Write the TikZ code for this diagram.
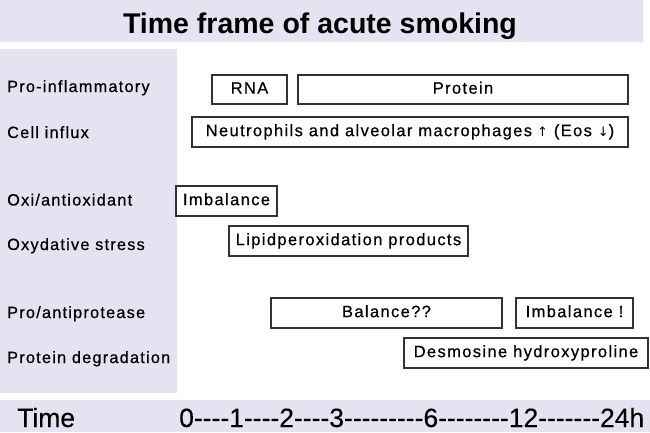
\documentclass[tikz,border=0pt]{standalone}
\usepackage{fontspec}
\setmainfont{Liberation Sans}
\newfontfamily\boxfont[LetterSpace=8.3,FakeBold=0.6]{Liberation Sans}
\newfontfamily\labfont[LetterSpace=7.5,FakeBold=0.6]{Liberation Sans}
\newfontfamily\axisfont[FakeBold=0.2]{Liberation Sans}
\newfontfamily\arrowfont{DejaVu Sans}
\definecolor{band}{RGB}{229,227,242}
\definecolor{edge}{RGB}{50,50,50}
\tikzset{
  boxed/.style={draw=edge, line width=1.1pt, fill=white, inner sep=0pt,
    font=\boxfont\fontsize{16.5}{18}\selectfont, text height=11.8pt, text depth=3.5pt},
  rowlabel/.style={anchor=base west, inner sep=0pt, font=\labfont\fontsize{16.3}{18}\selectfont},
  axistext/.style={anchor=base west, inner sep=0pt, font=\axisfont\fontsize{26.5}{28}\selectfont},
}
\newcommand{\bx}[6]{% name, x1, y1, x2, y2, text
  \node[boxed, minimum width={#4-#2}, minimum height={#5-#3}] (#1) at ({(#2+#4)/2},{(#3+#5)/2}) {#6};}
\newcommand{\hy}{-\kern0pt}
\newcommand{\arr}[1]{{\arrowfont\fontsize{13}{16}\selectfont #1}}
\begin{document}
\begin{tikzpicture}[x=1pt,y=-1pt]
\useasboundingbox (0,0) rectangle (650,432);
% bands
\fill[band] (0,0) rectangle (643,42);
\fill[band] (0,49) rectangle (177,393);
\fill[band] (0,400) rectangle (650,432);
% title
\node[anchor=base, inner sep=0pt, font=\bfseries\fontsize{28.5}{30}\selectfont] (title) at (320,33) {Time frame of acute smoking};
% row labels
\node[rowlabel] (l1) at (7,92) {Pro-inflammatory};
\node[rowlabel] (l2) at (7,138) {Cell influx};
\node[rowlabel] (l3) at (7,205.5) {Oxi/antioxidant};
\node[rowlabel] (l4) at (7,250) {Oxydative stress};
\node[rowlabel] (l5) at (7,318) {Pro/antiprotease};
\node[rowlabel] (l6) at (7,363) {Protein degradation};
% boxes
\bx{rna}{212}{75}{287}{104}{RNA}
\bx{protein}{298}{75}{628}{104}{Protein}
\bx{neut}{192}{117}{628}{147}{Neutrophils and alveolar macrophages\kern-1pt\ \arr{↑} (Eos \arr{↓})}
\bx{imbA}{176}{186}{277}{216}{Imbalance}
\bx{lipid}{229}{226}{468}{256}{Lipidperoxidation products}
\bx{bal}{271}{298}{502}{328}{Balance??}
\bx{imbB}{516}{298}{633}{328}{Imbalance !}
\bx{desm}{404}{338}{648}{368}{Desmosine hydroxyproline}
% time axis
\node[axistext] (time) at (17,427) {Time};
\node[axistext] (scale) at (179,427) {0\hy\hy\hy\hy1\hy\hy\hy\hy2\hy\hy\hy\hy3\hy\hy\hy\hy\hy\hy\hy\hy\hy6\hy\hy\hy\hy\hy\hy\hy\hy12\hy\hy\hy\hy\hy\hy\hy24h};
\end{tikzpicture}
\end{document}
